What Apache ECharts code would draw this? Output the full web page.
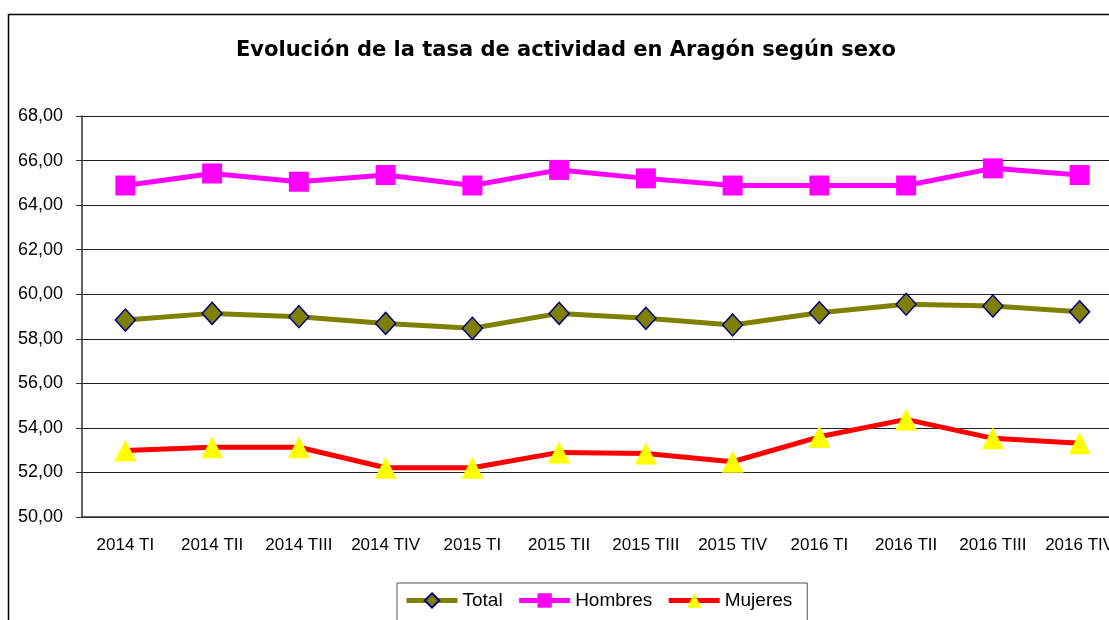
<!DOCTYPE html>
<html>
<head>
<meta charset="utf-8">
<script src="https://cdn.jsdelivr.net/npm/echarts@6/dist/echarts.min.js"></script>
<style>
  html, body { margin: 0; padding: 0; background: #fff; }
  #chart { width: 1109px; height: 620px; }
</style>
</head>
<body>
<div id="chart"></div>
<script>
// trimestres
const categories = ['2014 TI', '2014 TII', '2014 TIII', '2014 TIV', '2015 TI', '2015 TII',
  '2015 TIII', '2015 TIV', '2016 TI', '2016 TII', '2016 TIII', '2016 TIV'];
const total = [58.84, 59.14, 58.99, 58.69, 58.47, 59.14, 58.92, 58.62, 59.17, 59.55, 59.47, 59.21];
const hombres = [64.88, 65.42, 65.05, 65.35, 64.88, 65.58, 65.20, 64.88, 64.88, 64.88, 65.65, 65.35];
const mujeres = [52.98, 53.13, 53.13, 52.21, 52.21, 52.90, 52.85, 52.48, 53.60, 54.38, 53.53, 53.31];
const yMin = 50, yMax = 68, yStep = 2;

const chart = echarts.init(document.getElementById('chart'), null, { renderer: 'canvas' });
const font = 'Liberation Sans, Arial, sans-serif';

chart.setOption({
  animation: false,
  backgroundColor: '#fff',
  textStyle: { fontFamily: font },
  title: {
    text: 'Evolución de la tasa de actividad en Aragón según sexo',
    left: 561, top: 35, textAlign: 'center',
    textStyle: { fontSize: 21, fontWeight: 'bold', color: '#000', fontFamily: 'DejaVu Sans' }
  },
  graphic: [{
    type: 'rect', left: 6, top: 12, silent: true,
    shape: { width: 1140, height: 640 },
    style: { fill: 'none', stroke: '#000', lineWidth: 1.5 }
  }],
  grid: { left: 82, top: 116, width: 1041, height: 401, outerBoundsMode: 'none' },
  legend: {
    left: 397, top: 583,
    padding: [8, 15, 12, 7],
    borderColor: '#555', borderWidth: 1,
    itemWidth: 51, itemHeight: 18, itemGap: 14,
    lineStyle: { width: 5 },
    textStyle: { fontSize: 19, color: '#000', fontFamily: font },
    data: ['Total', 'Hombres', 'Mujeres']
  },
  xAxis: {
    type: 'category', data: categories, boundaryGap: true,
    axisLine: { lineStyle: { color: '#333', width: 1.5 } },
    axisTick: { alignWithLabel: false, length: 5, lineStyle: { color: '#333' } },
    axisLabel: { fontSize: 17, color: '#000', margin: 20, interval: 0 },
    splitLine: { show: false }
  },
  yAxis: {
    type: 'value', min: yMin, max: yMax, interval: yStep,
    axisLine: { show: true, lineStyle: { color: '#333', width: 1.5 } },
    axisTick: { show: true, length: 6, lineStyle: { color: '#333' } },
    axisLabel: { fontSize: 18, color: '#000', margin: 19,
      formatter: v => v.toFixed(2).replace('.', ',') },
    splitLine: { lineStyle: { color: '#222', width: 1 } }
  },
  series: [
    {
      name: 'Total', type: 'line', data: total,
      symbol: 'diamond', symbolSize: [20, 22],
      lineStyle: { color: '#808000', width: 5 },
      itemStyle: { color: '#808000', borderColor: '#000080', borderWidth: 1.5 }
    },
    {
      name: 'Hombres', type: 'line', data: hombres,
      symbol: 'rect', symbolSize: 20,
      lineStyle: { color: '#FF00FF', width: 5 },
      itemStyle: { color: '#FF00FF' }
    },
    {
      name: 'Mujeres', type: 'line', data: mujeres,
      symbol: 'triangle', symbolSize: 22,
      lineStyle: { color: '#FF0000', width: 5 },
      itemStyle: { color: '#FFFF00' }
    }
  ]
});
</script>
</body>
</html>
